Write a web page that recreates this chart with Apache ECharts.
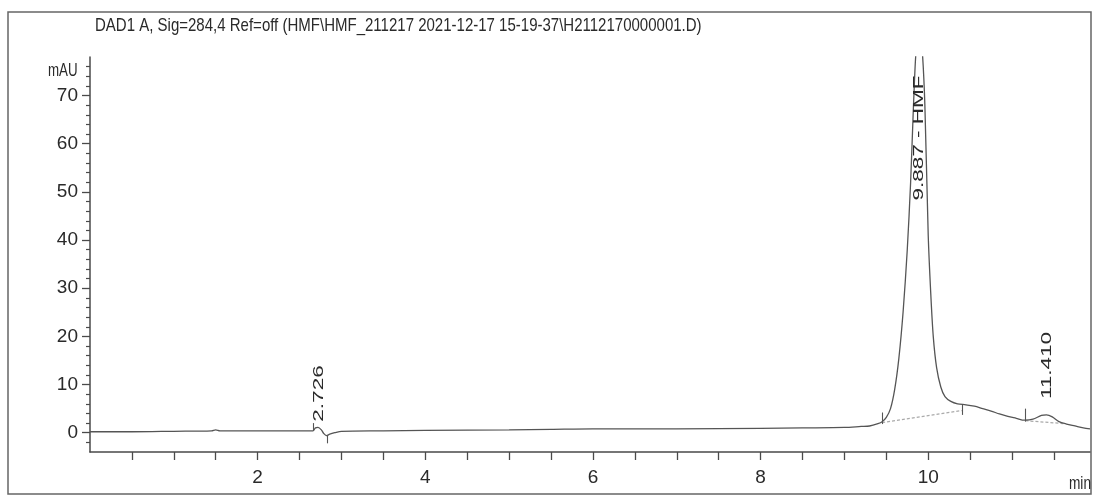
<!DOCTYPE html>
<html>
<head>
<meta charset="utf-8">
<script src="https://cdn.jsdelivr.net/npm/echarts@6/dist/echarts.min.js"></script>
<style>
html,body{margin:0;padding:0;background:#fff;}
#c{width:1096px;height:498px;}
</style>
</head>
<body>
<div id="c"></div>
<script>
// ---- data ----
const titleText = "DAD1 A, Sig=284,4 Ref=off (HMF\\HMF_211217 2021-12-17 15-19-37\\H2112170000001.D)";
const yAxisName = "mAU";
const xAxisName = "min";
const times  = [0, 0.5, 1.0, 1.45, 1.5, 1.55, 2.0, 2.5, 2.66, 2.69, 2.72, 2.76, 2.79, 2.82, 2.86, 2.92, 3.0, 3.5, 4.0, 5.0, 5.5, 6.0, 7.0, 8.0, 8.5, 9.0, 9.2, 9.3, 9.4, 9.45, 9.5, 9.55, 9.6, 9.65, 9.7, 9.75, 9.79, 9.82, 9.85, 9.89, 9.93, 9.96, 10.0, 10.03, 10.06, 10.1, 10.15, 10.2, 10.27, 10.35, 10.45, 10.55, 10.65, 10.75, 10.85, 10.95, 11.05, 11.15, 11.25, 11.35, 11.41, 11.48, 11.56, 11.65, 11.75, 11.85, 11.93];
const signal = [0.2, 0.2, 0.3, 0.4, 0.6, 0.4, 0.4, 0.4, 0.4, 1.0, 1.1, 0.6, -0.2, -0.6, -0.3, 0.0, 0.3, 0.4, 0.5, 0.6, 0.7, 0.8, 0.8, 0.9, 1.0, 1.1, 1.3, 1.4, 1.9, 2.3, 3.2, 5.0, 9.0, 15.5, 25, 38, 52, 66, 78, 86, 79, 68, 41, 29, 20, 13.5, 9.5, 7.5, 6.5, 6.0, 5.8, 5.5, 5.0, 4.5, 3.9, 3.4, 3.0, 2.6, 2.8, 3.6, 3.7, 3.3, 2.3, 1.8, 1.4, 1.0, 0.8];
const baseline1 = [[9.45, 2.1], [10.40, 4.6]];
const baseline2 = [[11.16, 2.5], [11.62, 1.9]];
const markerTicks = [[2.66, 0.4, 2.0], [2.83, -0.5, -2.2], [9.45, 1.8, 4.2], [10.40, 3.7, 5.8], [11.16, 2.3, 5.0]];
const peakLabels = [[2.726, 2.3, "2.726"], [9.887, 48.2, "9.887 - HMF"], [11.41, 7.0, "11.410"]];
const xLabelValues = [2, 4, 6, 8, 10];
const xTickValues = [0.5, 1, 1.5, 2, 2.5, 3, 3.5, 4, 4.5, 5, 5.5, 6, 6.5, 7, 7.5, 8, 8.5, 9, 9.5, 10, 10.5, 11, 11.5];
const yLabelValues = [0, 10, 20, 30, 40, 50, 60, 70];
const yMinorValues = [-2, 2, 4, 6, 8, 12, 14, 16, 18, 22, 24, 26, 28, 32, 34, 36, 38, 42, 44, 46, 48, 52, 54, 56, 58, 62, 64, 66, 68, 72, 74, 76];

// ---- chart ----
const FONT = "'Liberation Sans', Arial, sans-serif";
const AX = '#4a4a4a';
const TXT = '#2a2a2a';
const chart = echarts.init(document.getElementById('c'), null, {renderer: 'canvas'});
const lineData = times.map((t, i) => [t, signal[i]]);

chart.setOption({
  animation: false,
  backgroundColor: '#ffffff',
  grid: {left: 90, right: 6, top: 57, bottom: 46, containLabel: false},
  xAxis: [{
    type: 'value', min: 0, max: 11.93,
    axisLine: {show: true, onZero: false, lineStyle: {color: AX, width: 1.5}},
    axisTick: {show: true, customValues: xTickValues, length: 8, inside: false, lineStyle: {color: AX, width: 1.3}},
    axisLabel: {show: true, customValues: xLabelValues, margin: 16, fontFamily: FONT, fontSize: 19, color: TXT},
    splitLine: {show: false}
  }],
  yAxis: [{
    type: 'value', min: -4, max: 78,
    axisLine: {show: true, onZero: false, lineStyle: {color: AX, width: 1.5}},
    axisTick: {show: true, customValues: yLabelValues, length: 8, lineStyle: {color: AX, width: 1.3}},
    axisLabel: {show: true, customValues: yLabelValues, margin: 12, fontFamily: FONT, fontSize: 19, color: TXT},
    splitLine: {show: false}
  }, {
    type: 'value', min: -4, max: 78, position: 'left',
    axisLine: {show: false},
    axisTick: {show: true, customValues: yMinorValues, length: 4, lineStyle: {color: AX, width: 1.2}},
    axisLabel: {show: false},
    splitLine: {show: false}
  }],
  graphic: [
    {type: 'rect', shape: {x: 8, y: 12, width: 1083, height: 482}, style: {fill: 'none', stroke: '#666', lineWidth: 1.5}, silent: true, z: -1},
    {type: 'text', x: 95, y: 26, scaleX: 0.79, style: {text: titleText, fontFamily: FONT, fontSize: 19, fill: TXT, align: 'left', verticalAlign: 'middle'}},
    {type: 'text', x: 48, y: 71, scaleX: 0.74, style: {text: yAxisName, fontFamily: FONT, fontSize: 18, fill: TXT, align: 'left', verticalAlign: 'middle'}},
    {type: 'text', x: 1091, y: 484, scaleX: 0.72, style: {text: xAxisName, fontFamily: FONT, fontSize: 19, fill: TXT, align: 'right', verticalAlign: 'middle'}}
  ],
  series: [
    {
      type: 'line', data: lineData, showSymbol: false, symbol: 'none', smooth: 0.3, clip: true,
      lineStyle: {color: '#555', width: 1.3}, z: 3
    },
    {
      type: 'line', data: baseline1, showSymbol: false, symbol: 'none', clip: true,
      lineStyle: {color: '#aaa', width: 1.2, type: [3, 2]}, z: 2,
      markLine: {
        symbol: 'none', silent: true, label: {show: false},
        lineStyle: {color: '#555', width: 1.1, type: 'solid'},
        data: markerTicks.map(m => [{coord: [m[0], m[1]]}, {coord: [m[0], m[2]]}])
      }
    },
    {
      type: 'line', data: baseline2, showSymbol: false, symbol: 'none', clip: true,
      lineStyle: {color: '#aaa', width: 1.2, type: [3, 2]}, z: 2
    },
    {
      type: 'custom', z: 4, clip: false,
      data: peakLabels.map(p => [p[0], p[1], p[2]]),
      encode: {x: 0, y: 1},
      renderItem: (params, api) => {
        const pt = api.coord([api.value(0), api.value(1)]);
        return {
          type: 'text', x: pt[0], y: pt[1], rotation: Math.PI / 2, scaleX: 1.5,
          style: {text: peakLabels[params.dataIndex][2], fontFamily: FONT, fontSize: 15, fill: TXT, align: 'left', verticalAlign: 'middle'}
        };
      }
    }
  ]
});
</script>
</body>
</html>
